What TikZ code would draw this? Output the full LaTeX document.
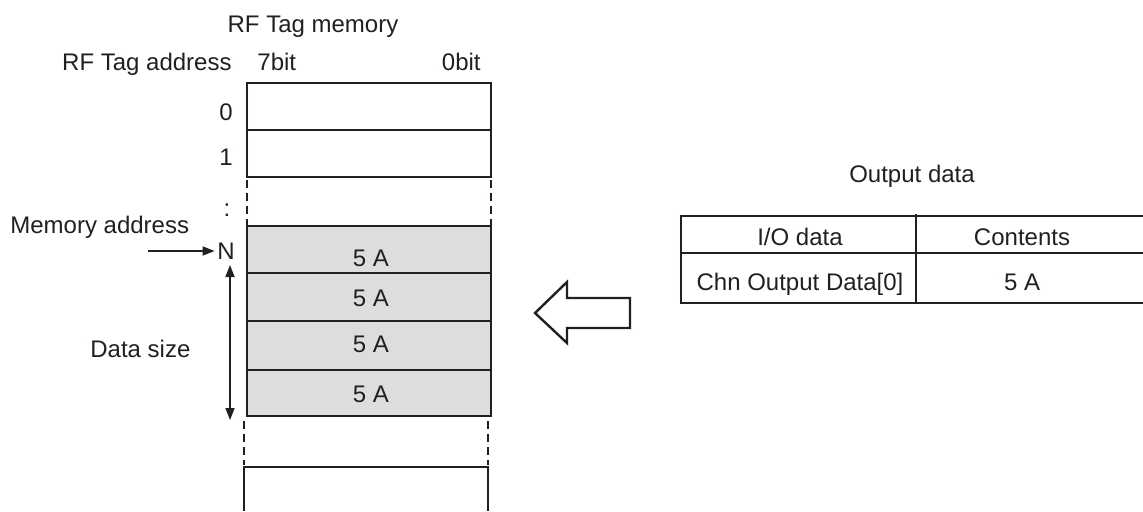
\documentclass[tikz,border=0pt]{standalone}
\usepackage{fontspec}
\setmainfont{Liberation Sans}
\usetikzlibrary{arrows.meta}
\definecolor{memgray}{RGB}{220,221,222}
\definecolor{ink}{RGB}{35,31,32}
\begin{document}
\begin{tikzpicture}[x=0.5pt,y=-0.5pt,
  txt/.style={inner sep=0pt,text=ink,font=\fontsize{12}{14}\selectfont},
  cellbox/.style={draw=ink,line width=1.4pt},
  graycell/.style={draw=ink,line width=1.3pt,fill=memgray},
  dashline/.style={draw=ink,line width=1.4pt,dash pattern=on 4pt off 2.5pt},
  tblline/.style={draw=ink,line width=1.4pt},
  thinarrow/.style={draw=ink,line width=0.8pt,-{Triangle[length=6pt,width=4.5pt]}},
  bothtip/.style={draw=ink,line width=0.8pt,{Triangle[length=6pt,width=4.5pt]}-{Triangle[length=6pt,width=4.5pt]}},
  hollow/.style={draw=ink,line width=1.2pt,line join=miter}
]
\useasboundingbox (0,0) rectangle (1143,511);

% headings
\node[txt,anchor=base] (memtitle) at (313,32) {RF Tag memory};
\node[txt,anchor=base east] (addrtitle) at (232,70) {RF Tag address};
\node[txt,anchor=base west] (bit7) at (257,70) {7bit};
\node[txt,anchor=base east] (bit0) at (481,70) {0bit};

% address labels
\node[txt,anchor=base east] (a0) at (233,120) {0};
\node[txt,anchor=base east] (a1) at (233,165) {1};
\node[txt,anchor=base] (adots) at (227,216) {:};
\node[txt,anchor=base west] (memaddr) at (10,233) {Memory address};
\node[txt,anchor=base west] (nlab) at (217,259) {N};
\node[txt,anchor=base west] (dsize) at (90,357) {Data size};

% memory top rows
\draw[cellbox] (247,83) rectangle (491,130);
\draw[cellbox] (247,130) rectangle (491,177);
\draw[dashline] (247,180) -- (247,226);
\draw[dashline] (491,180) -- (491,226);

% gray data rows
\draw[graycell] (247,226) rectangle (491,273);
\draw[graycell] (247,273) rectangle (491,321);
\draw[graycell] (247,321) rectangle (491,370);
\draw[graycell] (247,370) rectangle (491,416);
\node[txt,anchor=base] (d1) at (371,266) {5 A};
\node[txt,anchor=base] (d2) at (371,306) {5 A};
\node[txt,anchor=base] (d3) at (371,352) {5 A};
\node[txt,anchor=base] (d4) at (371,402) {5 A};

% lower part
\draw[dashline] (244,421) -- (244,465);
\draw[dashline] (488,421) -- (488,465);
\draw[cellbox] (244,511) -- (244,467) -- (488,467) -- (488,511);

% arrows on the left
\coordinate (mastart) at (148,251);
\draw[thinarrow,shorten >=1.2pt] (mastart) -- (mastart -| nlab.west);
\coordinate (dstop) at (230,265);
\coordinate (dsbot) at (230,420);
\draw[bothtip] (dstop) -- (dsbot);

% hollow arrow
\draw[hollow] (535,313) -- (567,282) -- (567,298) -- (630,298) -- (630,328) -- (567,328) -- (567,343) -- cycle;

% output data table
\node[txt,anchor=base] (outtitle) at (912,182) {Output data};
\draw[tblline] (1143,216) -- (681,216) -- (681,303) -- (1143,303);
\draw[tblline] (681,253) -- (1143,253);
\draw[tblline] (916,214) -- (916,303);
\node[txt,anchor=base] (h1) at (800,245) {I/O data};
\node[txt,anchor=base] (h2) at (1022,245) {Contents};
\node[txt,anchor=base] (c1) at (800,290) {Chn Output Data[0]};
\node[txt,anchor=base] (c2) at (1022,290) {5 A};
\end{tikzpicture}
\end{document}
